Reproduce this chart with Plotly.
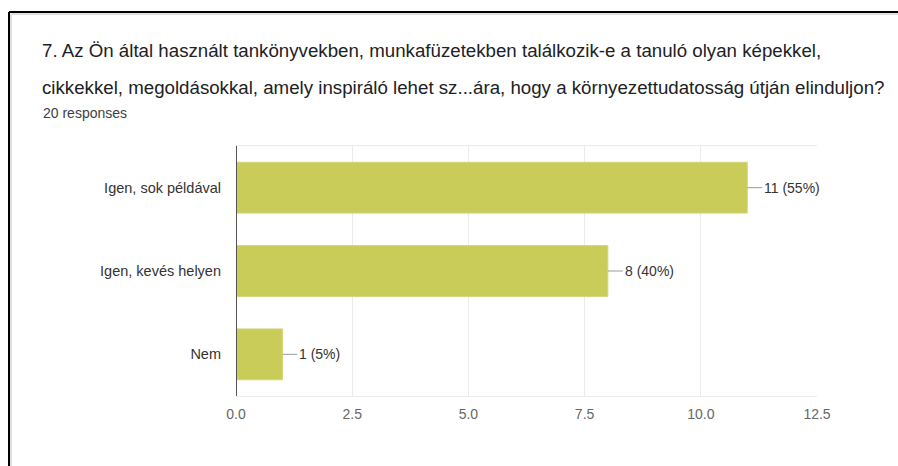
import plotly.graph_objects as go

categories = ["Igen, sok példával", "Igen, kevés helyen", "Nem"]
counts = [11, 8, 1]
percents = ["55%", "40%", "5%"]
x_ticks = [0, 2.5, 5, 7.5, 10, 12.5]
title_lines = [
    "7. Az Ön által használt tankönyvekben, munkafüzetekben találkozik-e a tanuló olyan képekkel,",
    "cikkekkel, megoldásokkal, amely inspiráló lehet sz...ára, hogy a környezettudatosság útján elinduljon?",
]
subtitle = "20 responses"

W, H = 898, 466
L, R, T, B = 236, 81, 146, 70
pw, ph = W - L - R, H - T - B


def px(xp):
    return (xp - L) / pw


def py(yp):
    return (H - B - yp) / ph


LABEL_FONT = "Liberation Sans, Arial, Helvetica"

fig = go.Figure(
    go.Bar(
        y=categories,
        x=counts,
        orientation="h",
        marker=dict(color="#c9cc58", line=dict(color="#d4d67a", width=1)),
        width=0.61,
        hoverinfo="skip",
    )
)

for c, n, p in zip(categories, counts, percents):
    fig.add_annotation(
        x=n, y=c, xref="x", yref="y",
        text=f"{n} ({p})",
        showarrow=True, arrowhead=0, arrowwidth=1, arrowcolor="#999999",
        ax=15, ay=0, xanchor="left", yanchor="middle",
        font=dict(family=LABEL_FONT, size=14, color="#333333"),
    )

title_font = dict(family=LABEL_FONT, size=18.7, color="#202124")
fig.add_annotation(x=px(40), y=py(50), xref="paper", yref="paper", text=title_lines[0],
                   showarrow=False, xanchor="left", yanchor="middle", font=title_font)
fig.add_annotation(x=px(40), y=py(87), xref="paper", yref="paper", text=title_lines[1],
                   showarrow=False, xanchor="left", yanchor="middle", font=title_font)
fig.add_annotation(x=px(41), y=py(113), xref="paper", yref="paper", text=subtitle,
                   showarrow=False, xanchor="left", yanchor="middle",
                   font=dict(family=LABEL_FONT, size=14, color="#3c4043"))

# page frame
fig.add_shape(type="line", xref="paper", yref="paper", x0=px(9), x1=px(W), y0=py(12), y1=py(12),
              line=dict(color="#000000", width=2))
fig.add_shape(type="line", xref="paper", yref="paper", x0=px(9), x1=px(9), y0=py(12), y1=py(H),
              line=dict(color="#000000", width=2))
fig.add_shape(type="line", xref="paper", yref="paper", x0=px(11), x1=px(W), y0=py(14), y1=py(14),
              line=dict(color="#e0e0e0", width=2))
fig.add_shape(type="line", xref="paper", yref="paper", x0=px(11), x1=px(11), y0=py(14), y1=py(H),
              line=dict(color="#e0e0e0", width=2))

fig.update_layout(
    width=W, height=H,
    margin=dict(l=L, r=R, t=T, b=B, pad=0),
    paper_bgcolor="white", plot_bgcolor="white",
    showlegend=False,
    xaxis=dict(
        range=[0, 12.5], tickvals=x_ticks, tickformat=".1f",
        showgrid=True, gridcolor="#ebebeb", gridwidth=1,
        zeroline=False, showline=True, linecolor="#ebebeb", mirror=True,
        ticks="", ticklabelstandoff=5,
        tickfont=dict(family=LABEL_FONT, size=14, color="#666666"),
        fixedrange=True,
    ),
    yaxis=dict(
        categoryorder="array", categoryarray=categories, autorange="reversed",
        showgrid=False, zeroline=False, showline=False,
        ticks="", ticklabelstandoff=14,
        tickfont=dict(family=LABEL_FONT, size=14.5, color="#333333"),
        fixedrange=True,
    ),
)
# dark baseline at x = 0
fig.add_vline(x=0, line=dict(color="#555555", width=2))

fig.write_html("out.html", config={"displayModeBar": False},
               post_script="document.body.style.margin='0px';")
